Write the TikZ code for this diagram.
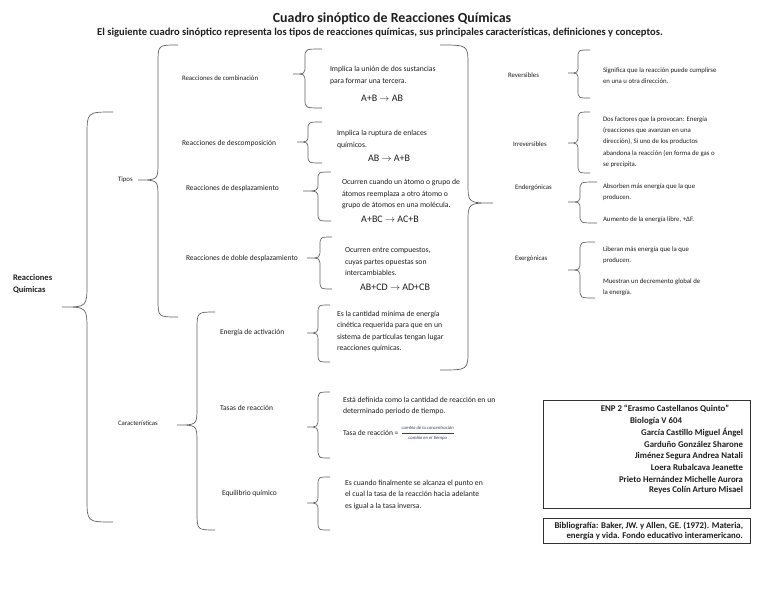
\documentclass[tikz,border=0pt]{standalone}
\usepackage{fontspec}
\setmainfont{Carlito}
\begin{document}
\begin{tikzpicture}[x=1pt,y=-1pt,
  every node/.style={inner sep=0pt,outer sep=0pt,text=black!88},
  item/.style={anchor=west,font=\fontsize{6.8}{8}\selectfont},
  itemb/.style={anchor=west,font=\fontsize{7.5}{8}\selectfont},
  txt/.style={anchor=west,align=left,font=\fontsize{6.8}{11.3}\selectfont},
  txtb/.style={anchor=west,align=left,font=\fontsize{7.7}{11.5}\selectfont},
  eq/.style={font=\fontsize{10}{11}\selectfont},
  boxtxt/.style={font=\bfseries\fontsize{8.8}{10}\selectfont},
  brc/.style={draw=black!62,line width=0.7pt}]
\newcommand{\Llave}[7]{%
  \draw[brc] (#1,#2) .. controls (#3,#2) .. (#3,#2+#7) -- (#3,#5-#7)
     .. controls (#3,#5) .. (#4,#5) .. controls (#3,#5) .. (#3,#5+#7)
     -- (#3,#6-#7) .. controls (#3,#6) .. (#1,#6);}
\useasboundingbox[fill=white] (0,0) rectangle (768,594);

% title
\node[font=\bfseries\fontsize{13.9}{16}\selectfont] (title) at (392,19) {Cuadro sinóptico de Reacciones Químicas};
\node[font=\bfseries\fontsize{10.55}{12}\selectfont] (sub) at (380,33) {El siguiente cuadro sinóptico representa los tipos de reacciones químicas, sus principales características, definiciones y conceptos.};

% root
\node[anchor=west,align=left,font=\bfseries\fontsize{8.5}{12.5}\selectfont] (root) at (13,284) {Reacciones\\Químicas};
\Llave{113}{112}{87}{62}{307}{522}{24}

% level 1
\node[item] (tipos) at (118,180) {Tipos};
\node[item] (carac) at (118,423) {Características};
\Llave{178}{45}{158}{138}{180}{317}{18}
\Llave{215}{312}{197}{177}{425}{530}{18}

% Tipos
\node[item] (comb) at (182,78) {Reacciones de combinación};
\node[itemb] (desc) at (182,143) {Reacciones de descomposición};
\node[itemb] (despl) at (186,188) {Reacciones de desplazamiento};
\node[itemb] (doble) at (186,258) {Reacciones de doble desplazamiento};

\Llave{322}{49}{305}{293}{74}{108}{9}
\node[txtb] (combt) at (330,75.5) {Implica la unión de dos sustancias\\para formar una tercera.};
\node[eq] (combe) at (382,98) {A+B $\rightarrow$ AB};

\Llave{322}{122}{308}{297}{142}{163}{8}
\node[txtb] (desct) at (337,139.5) {Implica la ruptura de enlaces\\químicos.};
\node[eq] (desce) at (389,158) {AB $\rightarrow$ A+B};

\Llave{331}{172}{318}{303}{191}{221}{8}
\node[txtb] (desplt) at (342,194) {Ocurren cuando un átomo o grupo de\\átomos reemplaza a otro átomo o\\grupo de átomos en una molécula.};
\node[eq] (desple) at (390,219) {A+BC $\rightarrow$ AC+B};

\Llave{332}{237}{320}{307}{258}{289}{9}
\node[txtb] (doblet) at (345,262) {Ocurren entre compuestos,\\cuyas partes opuestas son\\intercambiables.};
\node[eq] (doblee) at (395,287) {AB+CD $\rightarrow$ AD+CB};

% big right brace
\Llave{440}{45}{468}{493}{203}{370}{20}

% right column
\node[item] (rev) at (508,75) {Reversibles};
\node[item] (irr) at (513,144) {Irreversibles};
\node[item] (ende) at (515,188) {Endergónicas};
\node[item] (exer) at (515,259) {Exergónicas};

\Llave{590}{50}{578}{568}{73}{98}{8}
\node[txt] (revt) at (603,75.5) {Significa que la reacción puede cumplirse\\en una u otra dirección.};

\Llave{590}{112}{578}{568}{143}{173}{9}
\node[txt] (irrt) at (603,142) {Dos factores que la provocan: Energía\\(reacciones que avanzan en una\\dirección), Si uno de los productos\\abandona la reacción (en forma de gas o\\se precipita.};

\Llave{597}{182}{580}{568}{202}{223}{8}
\node[txt] (endet) at (603,192.5) {Absorben más energía que la que\\producen.};
\node[txt] (endet2) at (603,220) {Aumento de la energía libre, +ΔF.};

\Llave{595}{242}{580}{568}{270}{298}{9}
\node[txt] (exert) at (603,255.5) {Liberan más energía que la que\\producen.};
\node[txt] (exert2) at (603,287) {Muestran un decremento global de\\la energía.};

% Caracteristicas
\node[itemb] (act) at (220,333) {Energía de activación};
\node[itemb] (tasa) at (220,408) {Tasas de reacción};
\node[itemb] (equi) at (222,493) {Equilibrio químico};

\Llave{330}{305}{318}{307}{333}{362}{9}
\node[txtb] (actt) at (337,331.5) {Es la cantidad mínima de energía\\cinética requerida para que en un\\sistema de partículas tengan lugar\\reacciones químicas.};

\Llave{330}{392}{318}{307}{427}{458}{10}
\node[txtb] (tasat) at (343,406) {Está definida como la cantidad de reacción en un\\determinado periodo de tiempo.};
\node[itemb] (tasaf) at (343,433) {Tasa de reacción =};
\node[anchor=west,font=\fontsize{4.7}{5.5}\selectfont,text={rgb,255:red,55;green,65;blue,100}] (frac) at ([xshift=2pt]tasaf.east)
  {$\displaystyle\frac{\mbox{\itshape cambio de la concentración}}{\mbox{\itshape cambio en el tiempo}}$};

\Llave{330}{477}{318}{307}{503}{530}{9}
\node[txtb] (equit) at (345,494.5) {Es cuando finalmente se alcanza el punto en\\el cual la tasa de la reacción hacia adelante\\es igual a la tasa inversa.};

% boxes
\draw[black!80,line width=0.8pt] (543,400) rectangle (750,508);
\node[boxtxt] (b1) at (665,409) {ENP 2 “Erasmo Castellanos Quinto”};
\node[boxtxt] (b2) at (656,421) {Biología V 604};
\node[boxtxt,anchor=east] (b3) at (743,433) {García Castillo Miguel Ángel};
\node[boxtxt,anchor=east] (b4) at (743,444.5) {Garduño González Sharone};
\node[boxtxt,anchor=east] (b5) at (743,456) {Jiménez Segura Andrea Natali};
\node[boxtxt,anchor=east] (b6) at (743,467.5) {Loera Rubalcava Jeanette};
\node[boxtxt,anchor=east] (b7) at (743,479) {Prieto Hernández Michelle Aurora};
\node[boxtxt,anchor=east] (b8) at (743,490) {Reyes Colín Arturo Misael};

\draw[black!80,line width=0.8pt] (543,518) rectangle (750,543);
\node[boxtxt,anchor=east] (bib1) at (743,525.5) {Bibliografía: Baker, JW. y Allen, GE. (1972). Materia,};
\node[boxtxt,anchor=east] (bib2) at (743,536.5) {energía y vida. Fondo educativo interamericano.};
\end{tikzpicture}
\end{document}
